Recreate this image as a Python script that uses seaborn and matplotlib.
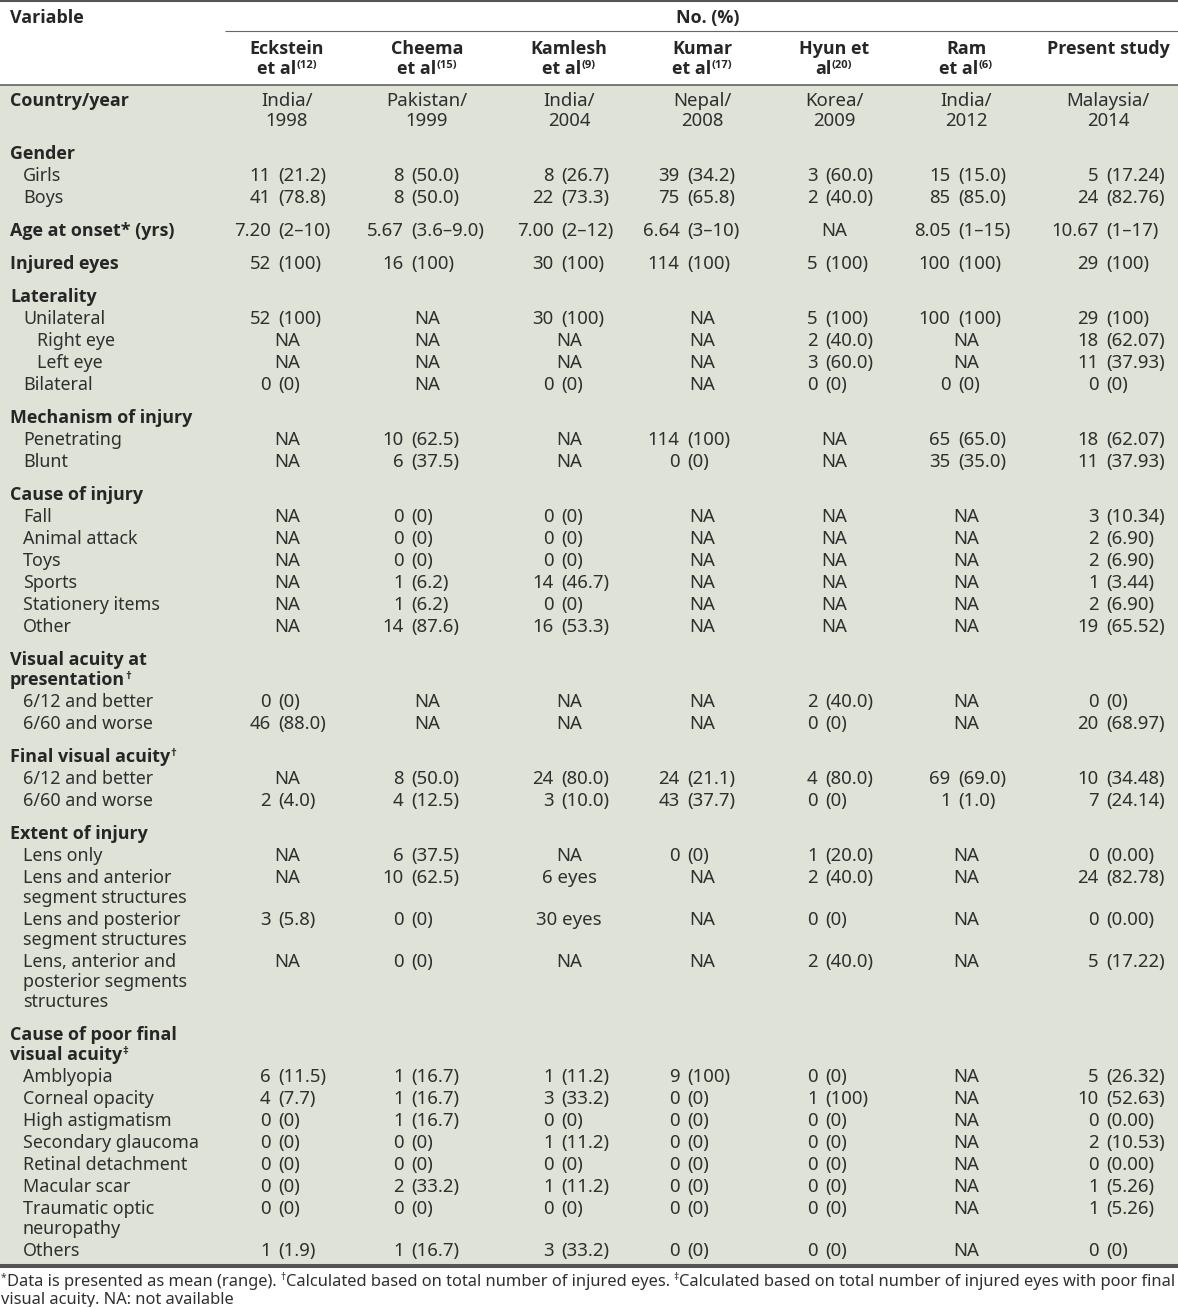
import matplotlib
matplotlib.use('Agg')
import matplotlib.pyplot as plt
from matplotlib import font_manager as fm
import seaborn as sns

sns.set_theme(style='white')
plt.rcParams['font.family'] = ['Noto Sans', 'DejaVu Sans']

# ---------------- data ----------------
study_line1 = ['Eckstein', 'Cheema', 'Kamlesh', 'Kumar', 'Hyun et', 'Ram', 'Present study']
study_line2 = ['et al', 'et al', 'et al', 'et al', 'al', 'et al', '']
study_refs = ['(12)', '(15)', '(9)', '(17)', '(20)', '(6)', '']

# (label lines, level, superscript mark)
row_labels = [
    (['Country/year'], 0, ''),
    (['Gender'], 0, ''),
    (['Girls'], 1, ''),
    (['Boys'], 1, ''),
    (['Age at onset* (yrs)'], 0, ''),
    (['Injured eyes'], 0, ''),
    (['Laterality'], 0, ''),
    (['Unilateral'], 1, ''),
    (['Right eye'], 2, ''),
    (['Left eye'], 2, ''),
    (['Bilateral'], 1, ''),
    (['Mechanism of injury'], 0, ''),
    (['Penetrating'], 1, ''),
    (['Blunt'], 1, ''),
    (['Cause of injury'], 0, ''),
    (['Fall'], 1, ''),
    (['Animal attack'], 1, ''),
    (['Toys'], 1, ''),
    (['Sports'], 1, ''),
    (['Stationery items'], 1, ''),
    (['Other'], 1, ''),
    (['Visual acuity at', 'presentation'], 0, '\u2020'),
    (['6/12 and better'], 1, ''),
    (['6/60 and worse'], 1, ''),
    (['Final visual acuity'], 0, '\u2020'),
    (['6/12 and better'], 1, ''),
    (['6/60 and worse'], 1, ''),
    (['Extent of injury'], 0, ''),
    (['Lens only'], 1, ''),
    (['Lens and anterior', 'segment structures'], 1, ''),
    (['Lens and posterior', 'segment structures'], 1, ''),
    (['Lens, anterior and', 'posterior segments', 'structures'], 1, ''),
    (['Cause of poor final', 'visual acuity'], 0, '\u2021'),
    (['Amblyopia'], 1, ''),
    (['Corneal opacity'], 1, ''),
    (['High astigmatism'], 1, ''),
    (['Secondary glaucoma'], 1, ''),
    (['Retinal detachment'], 1, ''),
    (['Macular scar'], 1, ''),
    (['Traumatic optic', 'neuropathy'], 1, ''),
    (['Others'], 1, ''),
]

NA = 'NA'
eckstein = ['India/\n1998', '', '11 (21.2)', '41 (78.8)', '7.20 (2–10)', '52 (100)', '',
            '52 (100)', NA, NA, '0 (0)', '', NA, NA, '',
            NA, NA, NA, NA, NA, NA, '', '0 (0)', '46 (88.0)', '', NA, '2 (4.0)', '',
            NA, NA, '3 (5.8)', NA, '',
            '6 (11.5)', '4 (7.7)', '0 (0)', '0 (0)', '0 (0)', '0 (0)', '0 (0)', '1 (1.9)']
cheema = ['Pakistan/\n1999', '', '8 (50.0)', '8 (50.0)', '5.67 (3.6–9.0)', '16 (100)', '',
          NA, NA, NA, NA, '', '10 (62.5)', '6 (37.5)', '',
          '0 (0)', '0 (0)', '0 (0)', '1 (6.2)', '1 (6.2)', '14 (87.6)', '', NA, NA, '',
          '8 (50.0)', '4 (12.5)', '',
          '6 (37.5)', '10 (62.5)', '0 (0)', '0 (0)', '',
          '1 (16.7)', '1 (16.7)', '1 (16.7)', '0 (0)', '0 (0)', '2 (33.2)', '0 (0)', '1 (16.7)']
kamlesh = ['India/\n2004', '', '8 (26.7)', '22 (73.3)', '7.00 (2–12)', '30 (100)', '',
           '30 (100)', NA, NA, '0 (0)', '', NA, NA, '',
           '0 (0)', '0 (0)', '0 (0)', '14 (46.7)', '0 (0)', '16 (53.3)', '', NA, NA, '',
           '24 (80.0)', '3 (10.0)', '',
           NA, '6 eyes', '30 eyes', NA, '',
           '1 (11.2)', '3 (33.2)', '0 (0)', '1 (11.2)', '0 (0)', '1 (11.2)', '0 (0)', '3 (33.2)']
kumar = ['Nepal/\n2008', '', '39 (34.2)', '75 (65.8)', '6.64 (3–10)', '114 (100)', '',
         NA, NA, NA, NA, '', '114 (100)', '0 (0)', '',
         NA, NA, NA, NA, NA, NA, '', NA, NA, '',
         '24 (21.1)', '43 (37.7)', '',
         '0 (0)', NA, NA, NA, '',
         '9 (100)', '0 (0)', '0 (0)', '0 (0)', '0 (0)', '0 (0)', '0 (0)', '0 (0)']
hyun = ['Korea/\n2009', '', '3 (60.0)', '2 (40.0)', NA, '5 (100)', '',
        '5 (100)', '2 (40.0)', '3 (60.0)', '0 (0)', '', NA, NA, '',
        NA, NA, NA, NA, NA, NA, '', '2 (40.0)', '0 (0)', '',
        '4 (80.0)', '0 (0)', '',
        '1 (20.0)', '2 (40.0)', '0 (0)', '2 (40.0)', '',
        '0 (0)', '1 (100)', '0 (0)', '0 (0)', '0 (0)', '0 (0)', '0 (0)', '0 (0)']
ram = ['India/\n2012', '', '15 (15.0)', '85 (85.0)', '8.05 (1–15)', '100 (100)', '',
       '100 (100)', NA, NA, '0 (0)', '', '65 (65.0)', '35 (35.0)', '',
       NA, NA, NA, NA, NA, NA, '', NA, NA, '',
       '69 (69.0)', '1 (1.0)', '',
       NA, NA, NA, NA, '',
       NA, NA, NA, NA, NA, NA, NA, NA]
present = ['Malaysia/\n2014', '', '5 (17.24)', '24 (82.76)', '10.67 (1–17)', '29 (100)', '',
           '29 (100)', '18 (62.07)', '11 (37.93)', '0 (0)', '', '18 (62.07)', '11 (37.93)', '',
           '3 (10.34)', '2 (6.90)', '2 (6.90)', '1 (3.44)', '2 (6.90)', '19 (65.52)', '',
           '0 (0)', '20 (68.97)', '',
           '10 (34.48)', '7 (24.14)', '',
           '0 (0.00)', '24 (82.78)', '0 (0.00)', '5 (17.22)', '',
           '5 (26.32)', '10 (52.63)', '0 (0.00)', '2 (10.53)', '0 (0.00)', '1 (5.26)', '1 (5.26)', '0 (0)']
columns = [eckstein, cheema, kamlesh, kumar, hyun, ram, present]

footnote_parts = [('*', 'Data is presented as mean (range).'),
                  ('\u2020', 'Calculated based on total number of injured eyes.'),
                  ('\u2021', 'Calculated based on total number of injured eyes with poor final')]
footnote_line2 = 'visual acuity. NA: not available'

# ---------------- fonts ----------------
def _wnum(w):
    if isinstance(w, (int, float)):
        return w
    return fm.weight_dict.get(str(w).lower(), 400)


def find_bold_file():
    prefs = ['Noto Sans', 'Open Sans', 'Lato', 'Roboto', 'Inter', 'Liberation Sans', 'DejaVu Sans']
    for name in prefs:
        cands = [f for f in fm.fontManager.ttflist
                 if f.name == name and _wnum(f.weight) >= 600 and f.style == 'normal']
        if cands:
            cands.sort(key=lambda f: abs(_wnum(f.weight) - 650))
            return cands[0].fname
    return fm.findfont(fm.FontProperties(family='DejaVu Sans', weight='bold'))


BOLD_FILE = find_bold_file()


def fprop(size, weight):
    if weight == 'bold':
        return fm.FontProperties(fname=BOLD_FILE, size=size)
    return fm.FontProperties(family=['Noto Sans', 'DejaVu Sans'], size=size)


# ---------------- layout / style ----------------
W, H = 1178, 1307
BG = '#dfe2d6'
TXT = '#2f2f2f'
TXT_B = '#262626'
LINE = '#555555'
col_center = [287, 427, 569, 702, 834, 966, 1108]
col_paren = [278, 411, 561, 687, 825, 958, 1106]

fig = plt.figure(figsize=(W / 100, H / 100), dpi=100)
ax = fig.add_axes([0, 0, 1, 1])
ax.set_xlim(0, W)
ax.set_ylim(H, 0)
ax.axis('off')
renderer = fig.canvas.get_renderer()


def measure(s, size, weight='normal'):
    t = ax.text(0, 0, s, fontproperties=fprop(size, weight))
    w = t.get_window_extent(renderer).width
    t.remove()
    return w


def space_w(size, weight='normal'):
    return measure('x x', size, weight) - measure('xx', size, weight)


FS = 10 * 137 / measure('Stationery items', 10)
FSV = FS * 1.04
SUP = 0.62


def rich(x, y, segs, ha='left', size=None, color=None):
    """segs: list of (text, weight, is_sup); text ' ' means a space gap"""
    size = size or FS
    widths = []
    for t, wgt, sup in segs:
        fs = size * SUP if sup else size
        widths.append(space_w(size, wgt) if t == ' ' else measure(t, fs, wgt))
    total = sum(widths)
    x0 = x - total / 2 if ha == 'center' else (x - total if ha == 'right' else x)
    for (t, wgt, sup), w in zip(segs, widths):
        if t != ' ':
            fs = size * SUP if sup else size
            c = color or (TXT_B if wgt == 'bold' else TXT)
            ax.text(x0, y - (size * 0.5 if sup else 0), t, fontproperties=fprop(fs, wgt),
                    color=c, ha='left', va='baseline')
        x0 += w


BASE = 6  # baseline offset from visual row centre

# background and rules
ax.axhspan(85, 1264, color=BG, zorder=0, lw=0)
ax.plot([0, W], [1, 1], color=LINE, lw=1.5, solid_capstyle='butt')
ax.plot([225, W], [31, 31], color='#666666', lw=0.8, solid_capstyle='butt')
ax.plot([0, W], [84.5, 84.5], color=LINE, lw=1.1, solid_capstyle='butt')
ax.plot([0, W], [1266, 1266], color=LINE, lw=2.9, solid_capstyle='butt')

# header
rich(10, 17 + BASE, [('Variable', 'bold', False)])
rich(708, 17 + BASE, [('No. (%)', 'bold', False)], ha='center')
for i in range(len(columns)):
    rich(col_center[i], 48 + BASE, [(study_line1[i], 'bold', False)], ha='center')
    if study_line2[i]:
        rich(col_center[i], 68 + BASE, [(study_line2[i], 'bold', False),
                                         (study_refs[i], 'bold', True)], ha='center')

# body
indent = {0: 10, 1: 23, 2: 37}
y = None
prev_last = None
reg = fprop(FSV, 'normal')
GAP = 1.5 * space_w(FSV)
for r, (lines, level, mark) in enumerate(row_labels):
    if y is None:
        y = 100
    else:
        y = prev_last + (33 if level == 0 else 22)
    weight = 'bold' if level == 0 else 'normal'
    x_lab = indent[level]
    for k, line in enumerate(lines):
        segs = [(line, weight, False)]
        if mark and k == len(lines) - 1:
            segs.append((mark, weight, True))
        rich(x_lab, y + 20 * k + BASE, segs)
    nlines = len(lines)
    for i, col in enumerate(columns):
        v = col[r]
        if not v:
            continue
        vlines = v.split('\n')
        nlines = max(nlines, len(vlines))
        for k, vl in enumerate(vlines):
            yy = y + 20 * k + BASE
            if ' (' in vl:
                cnt, rest = vl.split(' (', 1)
                ax.text(col_paren[i] - GAP, yy, cnt, fontproperties=reg, color=TXT,
                        ha='right', va='baseline')
                ax.text(col_paren[i], yy, '(' + rest, fontproperties=reg, color=TXT,
                        ha='left', va='baseline')
            else:
                ax.text(col_center[i], yy, vl, fontproperties=reg, color=TXT,
                        ha='center', va='baseline')
    prev_last = y + 20 * (nlines - 1)

# footnotes
segs = []
for j, (m, txt) in enumerate(footnote_parts):
    if j:
        segs.append((' ', 'normal', False))
    segs.append((m, 'normal', True))
    segs.append((txt, 'normal', False))
FF = 9.0
tot = 0
for t, wgt, sup in segs:
    tot += space_w(FF) if t == ' ' else measure(t, FF * SUP if sup else FF)
FF = FF * 1177 / tot
rich(1, 1286, segs, size=FF)
rich(1, 1304, [(footnote_line2, 'normal', False)], size=FF)

fig.savefig('out.png', dpi=100, facecolor='white')
